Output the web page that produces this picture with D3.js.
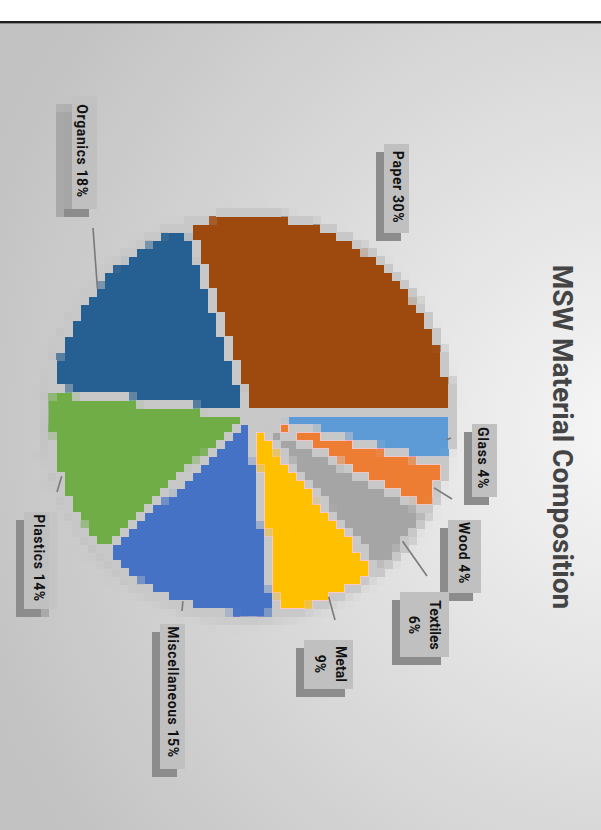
<!DOCTYPE html>
<html><head><meta charset="utf-8">
<script src="https://cdn.jsdelivr.net/npm/d3@7"></script>
<style>body{margin:0;background:#fff}svg{display:block}</style>
</head><body>
<svg id="c" width="601" height="830"></svg>
<script>
// ---- data ----
const categories = ["Glass","Wood","Textiles","Metal","Miscellaneous","Plastics","Organics","Paper"];
const values = [4,4,6,9,15,14,18,30];
const colors = ["#5b9bd5","#ed7d31","#a5a5a5","#ffc000","#4472c4","#70ad47","#255e91","#9e480e"];
const chartTitle = "MSW Material Composition";

// ---- layout (unrotated chart frame, 830 x 601) ----
const labelCenter = [[461,118],[556,137],[625,177],[664,271],[695,428],[561,562],[154,519],[190,203]];
const twoLine = [false,false,true,true,false,false,false,false];
const leaderEnd = [[438,150],[499,149],[576,174],[620,266],[611,419],[492,544],[228,508],null];

const svg = d3.select("#c");
const defs = svg.append("defs");
const rg = defs.append("radialGradient").attr("id","bg").attr("gradientUnits","userSpaceOnUse")
  .attr("cx",640).attr("cy",430).attr("r",700);
rg.append("stop").attr("offset",0).attr("stop-color","#f7f7f7");
rg.append("stop").attr("offset",1).attr("stop-color","#c2c2c2");

const f = defs.append("filter").attr("id","px").attr("filterUnits","userSpaceOnUse")
  .attr("primitiveUnits","userSpaceOnUse").attr("x",0).attr("y",0).attr("width",830).attr("height",601);
f.append("feFlood").attr("x",4).attr("y",4).attr("width",1).attr("height",1).attr("flood-color","#000").attr("result","dot");
f.append("feComposite").attr("in","dot").attr("in2","dot").attr("operator","over").attr("x",0).attr("y",0).attr("width",8).attr("height",8).attr("result","cell");
f.append("feTile").attr("in","cell").attr("result","grid");
f.append("feComposite").attr("in","SourceGraphic").attr("in2","grid").attr("operator","in").attr("result","samp");
f.append("feMorphology").attr("in","samp").attr("operator","dilate").attr("radius",4);

const blur = defs.append("filter").attr("id","bl").attr("x","-20%").attr("y","-20%").attr("width","140%").attr("height","140%");
blur.append("feGaussianBlur").attr("stdDeviation",5);

svg.append("rect").attr("x",0).attr("y",0).attr("width",601).attr("height",830).attr("fill","#fff");
svg.append("rect").attr("x",0).attr("y",23).attr("width",601).attr("height",807).attr("fill","url(#bg)");
svg.append("rect").attr("x",0).attr("y",21).attr("width",601).attr("height",2).attr("fill","#1e1e1e");
svg.append("rect").attr("x",0).attr("y",23).attr("width",601).attr("height",1).attr("fill","#888");

// rotated chart frame
const g = svg.append("g").attr("transform","translate(601,0) rotate(90)");
const cx = 415, cy = 351, R = 202;

const pie = d3.pie().sort(null).value(d => d).startAngle(0).endAngle(2*Math.PI);
const arcs = pie(values);
const arc = d3.arc().innerRadius(0).outerRadius(R);

const pg = g.append("g").attr("filter","url(#px)");
pg.append("circle").attr("cx",cx+3).attr("cy",cy+3).attr("r",R+2).attr("fill","#b8b8b8").attr("opacity",0.6).attr("filter","url(#bl)");
const pieG = pg.append("g").attr("transform",`translate(${cx},${cy})`);
pieG.selectAll("path").data(arcs).join("path")
  .attr("d",arc).attr("fill",(d,i)=>colors[i])
  .attr("stroke","#c8c8c8").attr("stroke-width",7).attr("stroke-linejoin","round");

// labels
const boxG = pg.append("g");
const txtG = g.append("g");
const font = "Roboto, 'DejaVu Sans', sans-serif";

// leader lines
arcs.forEach((a,i)=>{
  if(!leaderEnd[i]) return;
  const m = (a.startAngle+a.endAngle)/2;
  const sx = cx + (R-4)*Math.sin(m), sy = cy - (R-4)*Math.cos(m);
  txtG.append("line").attr("x1",sx).attr("y1",sy).attr("x2",leaderEnd[i][0]).attr("y2",leaderEnd[i][1])
    .attr("stroke","#7a7a7a").attr("stroke-width",1.6);
});

categories.forEach((c,i)=>{
  const [lx,ly] = labelCenter[i];
  const pct = values[i] + "%";
  if(twoLine[i]){
    const t1 = txtG.append("text").attr("x",lx).attr("y",ly-6).attr("text-anchor","middle")
      .attr("font-family",font).attr("font-weight","bold").attr("font-size",14).attr("fill","#111").text(c);
    const t2 = txtG.append("text").attr("x",lx).attr("y",ly+15).attr("text-anchor","middle")
      .attr("font-family",font).attr("font-weight","bold").attr("font-size",14).attr("fill","#111").text(pct);
    const w = Math.max(t1.node().getComputedTextLength(), t2.node().getComputedTextLength()) + 12;
    boxG.append("rect").attr("x",lx-w/2+8).attr("y",ly-22+8).attr("width",w).attr("height",44).attr("fill","#8c8c8c");
    boxG.append("rect").attr("x",lx-w/2).attr("y",ly-22).attr("width",w).attr("height",44).attr("fill","#c0c0c0");
  } else {
    const t = txtG.append("text").attr("x",lx-3).attr("y",ly+5).attr("text-anchor","middle")
      .attr("font-family",font).attr("font-weight","bold").attr("font-size",14).attr("fill","#111")
      .attr("letter-spacing",0.6).style("white-space","pre").text(c + "\n" + pct);
    const w = t.node().getComputedTextLength() + 14;
    boxG.append("rect").attr("x",lx-w/2+8).attr("y",ly-13.5+8).attr("width",w).attr("height",27).attr("fill","#8c8c8c");
    boxG.append("rect").attr("x",lx-w/2).attr("y",ly-13.5).attr("width",w).attr("height",27).attr("fill","#c0c0c0");
  }
});

g.append("text").attr("x",437).attr("y",48).attr("text-anchor","middle")
  .attr("font-family",font).attr("font-weight","bold").attr("font-size",28).attr("fill","#444")
  .text(chartTitle);
</script>
</body></html>
